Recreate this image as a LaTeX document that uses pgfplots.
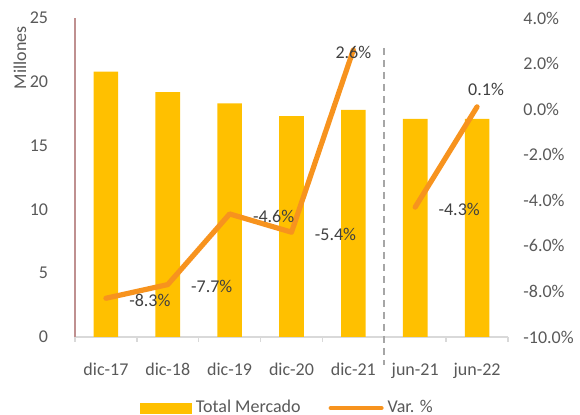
\documentclass[border=0pt]{standalone}
\usepackage{fontspec}
\setmainfont{Carlito}
\usepackage{pgfplots}
\pgfplotsset{compat=1.18}
\definecolor{barc}{RGB}{255,192,0}
\definecolor{linec}{RGB}{247,147,30}
\definecolor{tickc}{RGB}{89,89,89}
\definecolor{labc}{RGB}{64,64,64}
\definecolor{axgray}{RGB}{217,217,217}
\definecolor{leftc}{RGB}{191,144,144}
\definecolor{dashc}{RGB}{166,166,166}

\begin{document}
\begin{tikzpicture}[font=\fontsize{9}{10}\selectfont]
\useasboundingbox (-37.5pt,-39pt) rectangle (252.5pt,168.5pt);
% bars, left axis
\begin{axis}[
    scale only axis, width=216.5pt, height=159.5pt,
    xmin=-0.5, xmax=6.5, ymin=0, ymax=25,
    axis x line*=bottom, axis y line*=left,
    x axis line style={draw=axgray, line width=0.75pt, -},
    y axis line style={draw=leftc, line width=0.8pt, -},
    xtick={0,...,6},
    xticklabels={dic-17,dic-18,dic-19,dic-20,dic-21,jun-21,jun-22},
    major x tick style={draw=none},
    minor xtick={-0.5,0.5,...,6.5},
    minor tick length=2.5pt, tick align=outside,
    minor x tick style={draw=axgray, line width=0.75pt},
    ytick={0,5,...,25}, major y tick style={draw=none},
    xticklabel style={anchor=base, inner sep=0pt, yshift=-14.8pt, text=tickc},
    yticklabel style={anchor=east, inner sep=0pt, xshift=-9pt, text=tickc},
    /pgf/number format/assume math mode=true,
    clip=false,
]
\addplot[ybar, bar width=12.3pt, fill=barc, draw=none] coordinates {
    (0,20.8)(1,19.2)(2,18.3)(3,17.3)(4,17.8)(5,17.1)(6,17.1)
};
\draw[dashc, line width=0.8pt, dash pattern=on 3.5pt off 2.5pt]
    (axis cs:4.5,22.65) -- (axis cs:4.5,-2.19);
\path (rel axis cs:0,0.875) ++(-27.5pt,0pt) node[rotate=90, text=tickc] {Millones};
\end{axis}
% variation, right axis
\begin{axis}[
    scale only axis, width=216.5pt, height=159.5pt,
    xmin=-0.5, xmax=6.5, ymin=-10, ymax=4,
    axis x line=none, axis y line*=right,
    y axis line style={draw=none},
    ytick={-10,-8,...,4}, major tick length=0pt,
    yticklabel={\pgfmathprintnumber[fixed,fixed zerofill,precision=1]{\tick}\%},
    yticklabel style={anchor=west, inner sep=0pt, xshift=7.5pt, text=tickc},
    /pgf/number format/assume math mode=true,
    clip=false,
    legend columns=2,
    legend style={at={(0.493,-0.2226)}, anchor=center, draw=none, fill=none,
        text=tickc, inner sep=0pt,
        /tikz/every even column/.append style={column sep=12pt}},
]
\addlegendimage{legend image code/.code={\fill[barc] (0pt,-2.5pt) rectangle (25.5pt,2.5pt);}}
\addlegendentry{Total Mercado}
\addplot[linec, line width=2.6pt, line cap=round, line join=round,
    legend image code/.code={\draw[linec, line width=2.2pt, line cap=round] (1.1pt,0pt) -- (26.4pt,0pt);}]
    coordinates {(0,-8.3)(1,-7.7)(2,-4.6)(3,-5.4)(4,2.6)};
\addlegendentry{Var. \%}
\addplot[linec, line width=2.6pt, line cap=round, line join=round, forget plot]
    coordinates {(5,-4.3)(6,0.1)};
% data labels
\addplot[draw=none, forget plot, nodes near coords, point meta=explicit symbolic,
    nodes near coords style={anchor=west, inner sep=0pt, xshift=11.5pt, yshift=-1pt, text=labc}]
    coordinates {(0,-8.3)[-8.3\%] (1,-7.7)[-7.7\%] (2,-4.6)[-4.6\%] (3,-5.4)[-5.4\%] (5,-4.3)[-4.3\%]};
\addplot[draw=none, forget plot, nodes near coords, point meta=explicit symbolic,
    nodes near coords style={anchor=center, inner sep=0pt, yshift=-1.5pt, text=labc}]
    coordinates {(4,2.6)[2.6\%]};
\addplot[draw=none, forget plot, nodes near coords, point meta=explicit symbolic,
    nodes near coords style={anchor=south, inner sep=0pt, xshift=4.5pt, yshift=5.5pt, text=labc}]
    coordinates {(6,0.1)[0.1\%]};
\end{axis}
\end{tikzpicture}
\end{document}
